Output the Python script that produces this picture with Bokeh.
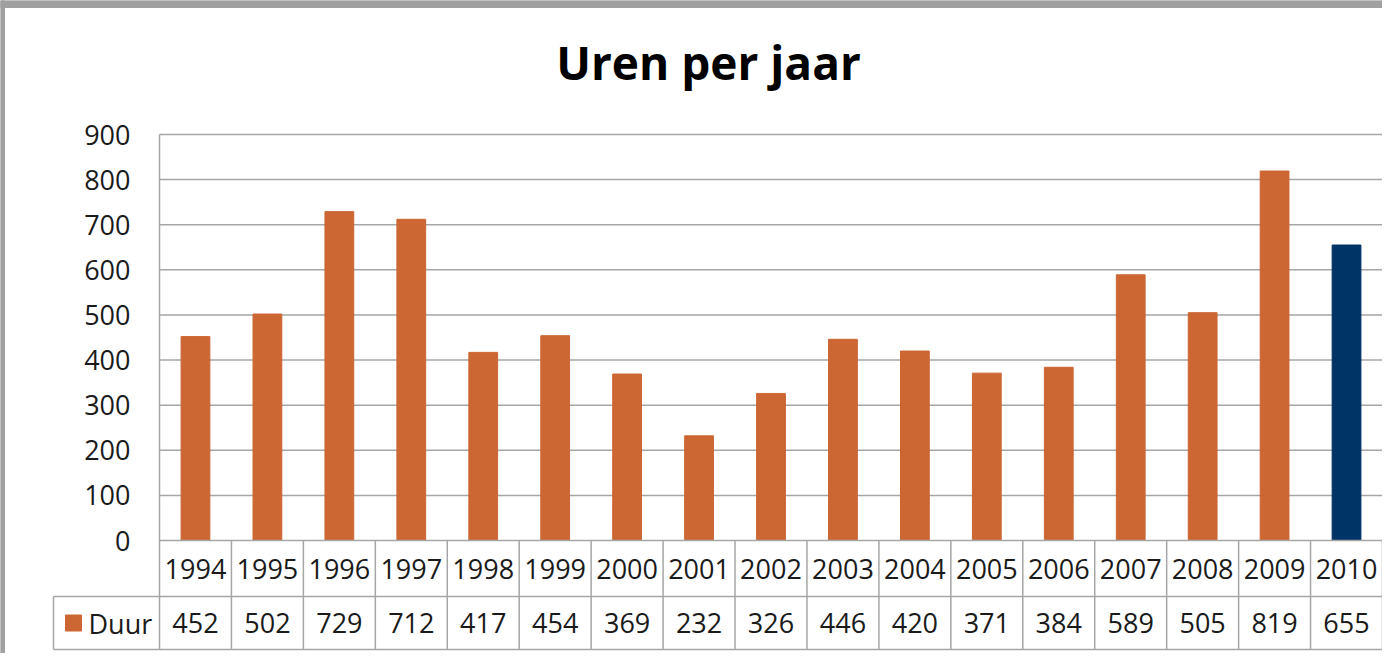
from bokeh.plotting import figure
from bokeh.models import Range1d, ColumnDataSource
from bokeh.core.properties import value
from bokeh.embed import file_html
from bokeh.resources import INLINE

# ---- data ----
years = ["1994", "1995", "1996", "1997", "1998", "1999", "2000", "2001", "2002",
         "2003", "2004", "2005", "2006", "2007", "2008", "2009", "2010"]
duur = [452, 502, 729, 712, 417, 454, 369, 232, 326, 446, 420, 371, 384, 589, 505, 819, 655]
y_ticks = [0, 100, 200, 300, 400, 500, 600, 700, 800, 900]
series_name = "Duur"
chart_title = "Uren per jaar"

ORANGE = "#CC6633"
BLUE = "#003366"
GRAY = "#A0A0A0"
LINE = "#A6A6A6"
FONT = "Open Sans"
bar_colors = [ORANGE] * (len(duur) - 1) + [BLUE]

# ---- layout (canvas pixels) ----
W, H = 1382, 653
plot_left = 159
plot_right = W
y0_px = 540
ytop_px = 134
n = len(years)
cat_w = (plot_right - plot_left) / n
px_per_unit = (y0_px - ytop_px) / y_ticks[-1]


def X(px):
    return (px - plot_left) / cat_w


def Y(py):
    return (y0_px - py) / px_per_unit


p = figure(width=W, height=H, x_range=Range1d(X(0), X(W)), y_range=Range1d(Y(H), Y(0)),
           output_backend="svg", toolbar_location=None, min_border=0,
           x_axis_location=None, y_axis_location=None)
p.grid.visible = False
p.outline_line_color = None
p.background_fill_color = "white"
p.border_fill_color = "white"

# outer gray border (top and left)
p.quad(left=[X(0)], right=[X(W)], top=[Y(0)], bottom=[Y(7)], color=GRAY)
p.quad(left=[X(0)], right=[X(4)], top=[Y(0)], bottom=[Y(H)], color=GRAY)

# title
p.text(x=[X(708)], y=[Y(61)], text=[chart_title],
       text_font=value(FONT), text_font_style="bold", text_font_size="46px",
       text_align="center", text_baseline="middle", text_color="#000000")

# gridlines
grid_vals = y_ticks[1:]
p.segment(x0=[0] * len(grid_vals), x1=[n] * len(grid_vals), y0=grid_vals, y1=grid_vals,
          line_color=LINE, line_width=1.5)

# y tick labels
p.text(x=[X(130)] * len(y_ticks), y=y_ticks, text=[str(t) for t in y_ticks],
       text_font=value(FONT), text_font_size="27px", text_align="right",
       text_baseline="middle", text_color="#1a1a1a")

# bars
src = ColumnDataSource(dict(x=[i + 0.5 for i in range(n)], top=duur, color=bar_colors,
                            year=years, label=[str(v) for v in duur]))
p.vbar(x="x", top="top", bottom=0, width=0.4, fill_color="color", line_color="color", source=src)

# data table
r1 = Y(596)
r2 = Y(649)
left_box = X(53)
p.segment(x0=[0, left_box, left_box], x1=[n, n, n], y0=[0, r1, r2], y1=[0, r1, r2],
          line_color=LINE, line_width=1.5)
p.segment(x0=[0], x1=[0], y0=[y_ticks[-1]], y1=[r2], line_color=LINE, line_width=1.5)
vx = list(range(1, n + 1))
p.segment(x0=vx, x1=vx, y0=[0] * n, y1=[r2] * n, line_color=LINE, line_width=1.5)
p.segment(x0=[left_box], x1=[left_box], y0=[r1], y1=[r2], line_color=LINE, line_width=1.5)

p.text(x="x", y=(0 + r1) / 2, text="year", source=src, text_font=value(FONT),
       text_font_size="27px", text_align="center", text_baseline="middle", text_color="#1a1a1a")
p.text(x="x", y=(r1 + r2) / 2, text="label", source=src, text_font=value(FONT),
       text_font_size="27px", text_align="center", text_baseline="middle", text_color="#1a1a1a")

# legend key in table
p.scatter(x=[X(73)], y=[(r1 + r2) / 2], marker="square", size=16, fill_color=ORANGE, line_color=ORANGE)
p.text(x=[X(88)], y=[(r1 + r2) / 2], text=[series_name], text_font=value(FONT),
       text_font_size="27px", text_align="left", text_baseline="middle", text_color="#1a1a1a")

open("out.html", "w").write(file_html(p, INLINE))
